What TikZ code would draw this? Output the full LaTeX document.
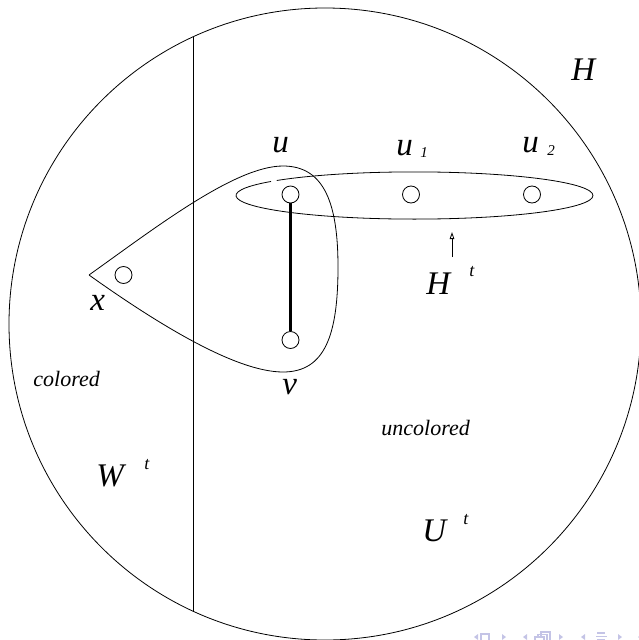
\documentclass[tikz,border=0pt]{standalone}
\usepackage{fontspec}
\setmainfont{Liberation Serif}
\usetikzlibrary{arrows.meta}
\definecolor{navcol}{RGB}{196,196,230}
\begin{document}
\begin{tikzpicture}[x=1pt,y=-1pt,line width=0.8pt,
  vtx/.style={draw, circle, minimum size=17pt, inner sep=0pt},
  lbl/.style={anchor=base west, inner sep=0pt, font=\fontsize{33}{38}\selectfont\itshape},
  sub/.style={anchor=base west, inner sep=0pt, font=\fontsize{15}{18}\selectfont\itshape},
  supt/.style={anchor=base west, inner sep=0pt, font=\fontsize{18}{21}\selectfont\itshape},
  word/.style={anchor=base west, inner sep=0pt, font=\fontsize{22}{26}\selectfont\itshape},
  navsym/.style={fill=navcol, draw=none}]
\useasboundingbox (0,0) rectangle (639,640);
\clip (0,0) rectangle (639,640);
% big circle
\draw (325,324) circle[radius=316];
% dividing line
\coordinate (lt) at (193,37);
\coordinate (lb) at (193,611);
\draw (lt) -- (lb);
% vertices
\node[vtx] (u)  at (290.5,194.5) {};
\node[vtx] (u1) at (411,194.5) {};
\node[vtx] (u2) at (532,194.5) {};
\node[vtx] (v)  at (290.5,340) {};
\node[vtx] (x)  at (123.5,275) {};
\draw[line width=3pt] (u) -- (v);
% ellipse H^t with small gap
\draw (414.5,195.5) ++(219.5:178.5 and 23.6) arc[start angle=219.5, end angle=576.5, x radius=178.5, y radius=23.6];
% teardrop around x, u, v
\draw (89,275) .. controls (155,228) and (235,166) .. (283,166)
  .. controls (325,166) and (338,205) .. (338,267)
  .. controls (338,335) and (325,372) .. (283,372)
  .. controls (235,372) and (155,322) .. (89,275);
% arrow to ellipse
\coordinate (as) at (452,257);
\coordinate (ae) at (452,232);
\draw[-{Triangle[open,length=7pt,width=4.5pt]}] (as) -- (ae);
% labels
\node[lbl] (lu) at (272,152) {u};
\node[lbl] (lu1) at (396,155) {u};
\node[sub] (lu1s) at (420,157) {1};
\node[lbl] (lu2) at (522,152) {u};
\node[sub] (lu2s) at (547,155) {2};
\node[lbl] (lH) at (571,80) {H};
\node[lbl] (lHt) at (426,294) {H};
\node[supt] (lHts) at (469,276) {t};
\node[lbl] (lx) at (90,310) {x};
\node[lbl] (lv) at (282,394) {v};
\node[word] (lcol) at (33,386) {colored};
\node[word] (lunc) at (381,435) {uncolored};
\node[lbl] (lW) at (96,486) {W};
\node[supt] (lWs) at (144,469) {t};
\node[lbl] (lU) at (422,541) {U};
\node[supt] (lUs) at (463,524) {t};
% navigation symbols (clipped at bottom)
\fill[navsym] (478,634) -- (474,637) -- (478,640) -- cycle;
\draw[navcol, line width=1.2pt] (481,634) rectangle (489,644);
\fill[navsym] (502,634) -- (506,637) -- (502,640) -- cycle;
\fill[navsym] (527,634) -- (523,637) -- (527,640) -- cycle;
\draw[navcol, line width=1.2pt] (541,632) rectangle (550,642);
\draw[navcol, line width=1.2pt] (538,634.5) rectangle (547,644);
\draw[navcol, line width=1.2pt, fill=white] (535,637) rectangle (544,646);
\fill[navsym] (559,634) -- (563,637) -- (559,640) -- cycle;
\fill[navsym] (585,634) -- (581,637) -- (585,640) -- cycle;
\draw[navcol, line width=1.2pt] (597,633) -- (605,633) (596,636.5) -- (607,636.5) (597,640) -- (605,640);
\fill[navsym] (618,634) -- (622,637) -- (618,640) -- cycle;
\fill[navsym] (642,634) -- (638,637) -- (642,640) -- cycle;
\end{tikzpicture}
\end{document}
